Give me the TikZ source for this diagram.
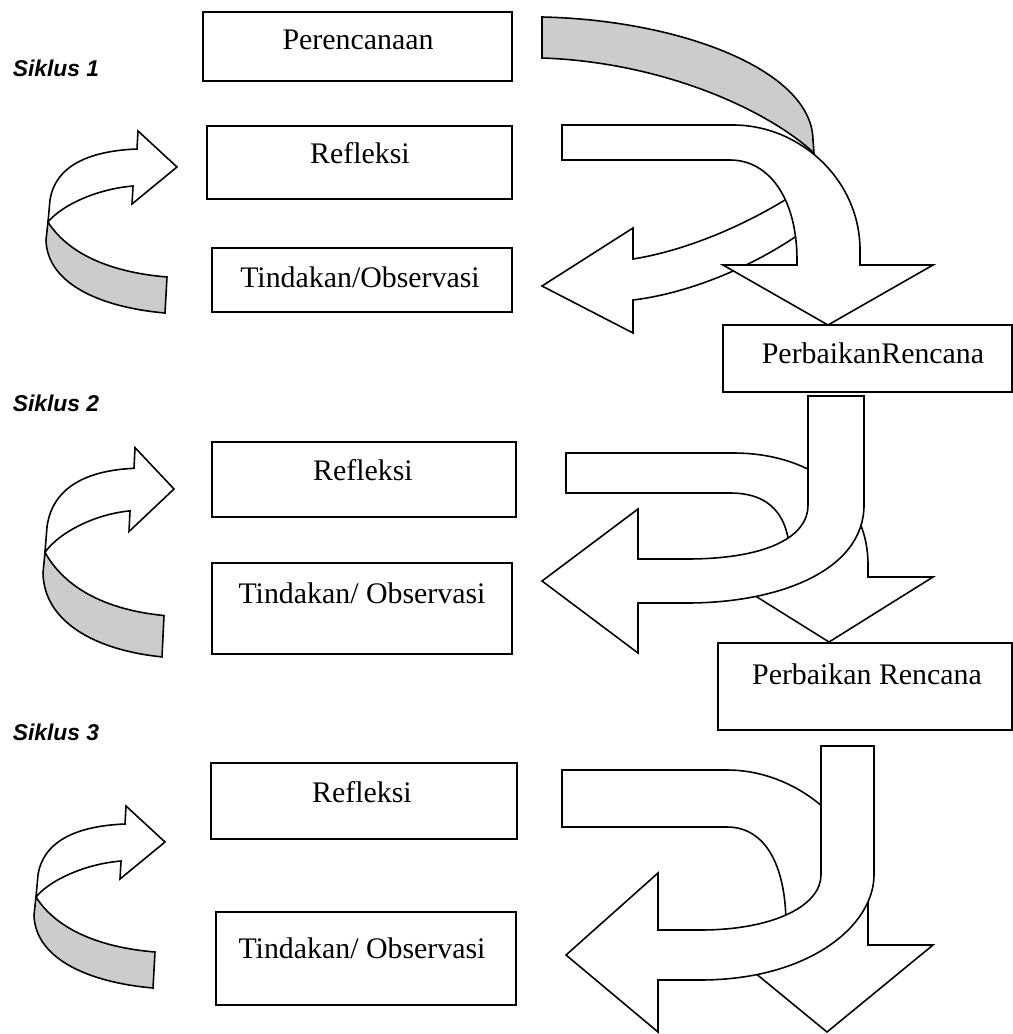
\documentclass[tikz,border=0pt]{standalone}
\usepackage{fontspec}
\setmainfont{Liberation Serif}
\setsansfont{Liberation Sans}
\definecolor{ribbongray}{RGB}{204,204,204}

% curved return arrow on the left of each cycle (tip at the origin)
\newcommand{\loopback}[1]{%
	\begin{scope}[#1]
		\filldraw[ribbon] (0,0) -- (-39,-36) -- (-40,-18) .. controls (-90,-16) and (-122,0) .. (-127,33) -- (-129,55) .. controls (-115,38) and (-80,22) .. (-44,19) -- (-45,37) -- cycle;
		\filldraw[backface] (-129,55) -- (-131,73) .. controls (-130,115) and (-80,140) .. (-12,146) -- (-10,110) .. controls (-70,105) and (-110,85) .. (-129,55) -- cycle;
	\end{scope}}

\begin{document}
\begin{tikzpicture}[x=0.02cm,y=-0.02cm,line width=0.9pt]
	
		\tikzset{
		  ribbon/.style={draw=black,fill=white,line join=miter},
		  backface/.style={draw=black,fill=ribbongray,line join=miter},
		  box/.style={draw=black},
		  boxtext/.style={anchor=base,inner sep=0pt,font=\fontsize{17}{20}\selectfont},
		  cyclelabel/.style={anchor=base west,inner sep=0pt,font=\sffamily\bfseries\itshape\fontsize{13}{15}\selectfont},
		}
		\useasboundingbox (0,0) rectangle (1013,1034);
		
		% cycle labels
		\node[cyclelabel] (siklus1) at (12,77) {Siklus 1};
		\node[cyclelabel] (siklus2) at (12,411) {Siklus 2};
		\node[cyclelabel] (siklus3) at (12,740) {Siklus 3};
		
		% boxes
		\draw[box] (203,12) rectangle (512,81);
		\node[boxtext] (plan) at (358,50) {Perencanaan};
		\draw[box] (207,126) rectangle (512,199);
		\node[boxtext] (refl1) at (360,163) {Refleksi};
		\draw[box] (212,248) rectangle (512,312);
		\node[boxtext] (act1) at (360,287) {Tindakan/Observasi};
		\draw[box] (723,325) rectangle (1012,392);
		\node[boxtext] (fix1) at (873,363) {PerbaikanRencana};
		\draw[box] (212,442) rectangle (516,517);
		\node[boxtext] (refl2) at (363,480) {Refleksi};
		\draw[box] (212,563) rectangle (512,654);
		\node[boxtext] (act2) at (362,603) {Tindakan/ Observasi};
		\draw[box] (718,643) rectangle (1012,730);
		\node[boxtext] (fix2) at (867,684) {Perbaikan Rencana};
		\draw[box] (211,763) rectangle (517,839);
		\node[boxtext] (refl3) at (362,802) {Refleksi};
		\draw[box] (216,912) rectangle (516,1005);
		\node[boxtext] (act3) at (362,958) {Tindakan/ Observasi};
		
		% left loops
		\loopback{shift={(177,167)}}
		\loopback{shift={(174,489)},yscale=1.15}
		\loopback{shift={(165,842)}}
		
		% cycle 1
		\filldraw[backface] (542,17) .. controls (680,20) and (812,70) .. (813,140) -- (814,153) .. controls (765,108) and (660,62) .. (542,58) -- cycle;
		\filldraw[ribbon] (542,286) -- (633,228) -- (633,259) .. controls (690,250) and (760,220) .. (815,180) -- (830,210) .. controls (780,255) and (700,292) .. (633,300) -- (633,333) -- cycle;
		\filldraw[ribbon] (562,125) -- (733,125) .. controls (800,125) and (860,180) .. (860,250) -- (860,265) -- (933,265) -- (828,325) -- (723,265) -- (797,265) -- (797,260) .. controls (797,200) and (770,160) .. (730,160) -- (562,160) -- cycle;
		
		% cycle 2
		\filldraw[ribbon] (566,453) -- (733,453) .. controls (810,453) and (868,495) .. (868,565) -- (868,577) -- (933,577) -- (829,642) -- (725,577) -- (790,577) -- (790,560) .. controls (790,515) and (770,493) .. (730,493) -- (566,493) -- cycle;
		\filldraw[ribbon] (808,396) -- (864,396) -- (864,505) .. controls (864,570) and (780,603) .. (687,603) -- (638,603) -- (638,653) -- (542,581) -- (638,509) -- (638,559) -- (687,559) .. controls (760,559) and (808,540) .. (808,505) -- cycle;
		
		% cycle 3
		\filldraw[ribbon] (562,770) -- (727,770) .. controls (800,770) and (868,830) .. (868,900) -- (868,945) -- (933,945) -- (827,1032) -- (721,945) -- (786,945) -- (786,925) .. controls (786,865) and (765,827) .. (727,827) -- (562,827) -- cycle;
		\filldraw[ribbon] (821,746) -- (874,746) -- (874,875) .. controls (874,925) and (810,980) .. (700,980) -- (658,980) -- (658,1032) -- (566,955) -- (658,873) -- (658,930) -- (700,930) .. controls (775,930) and (821,905) .. (821,875) -- cycle;
	
	\end{tikzpicture}
\end{document}
